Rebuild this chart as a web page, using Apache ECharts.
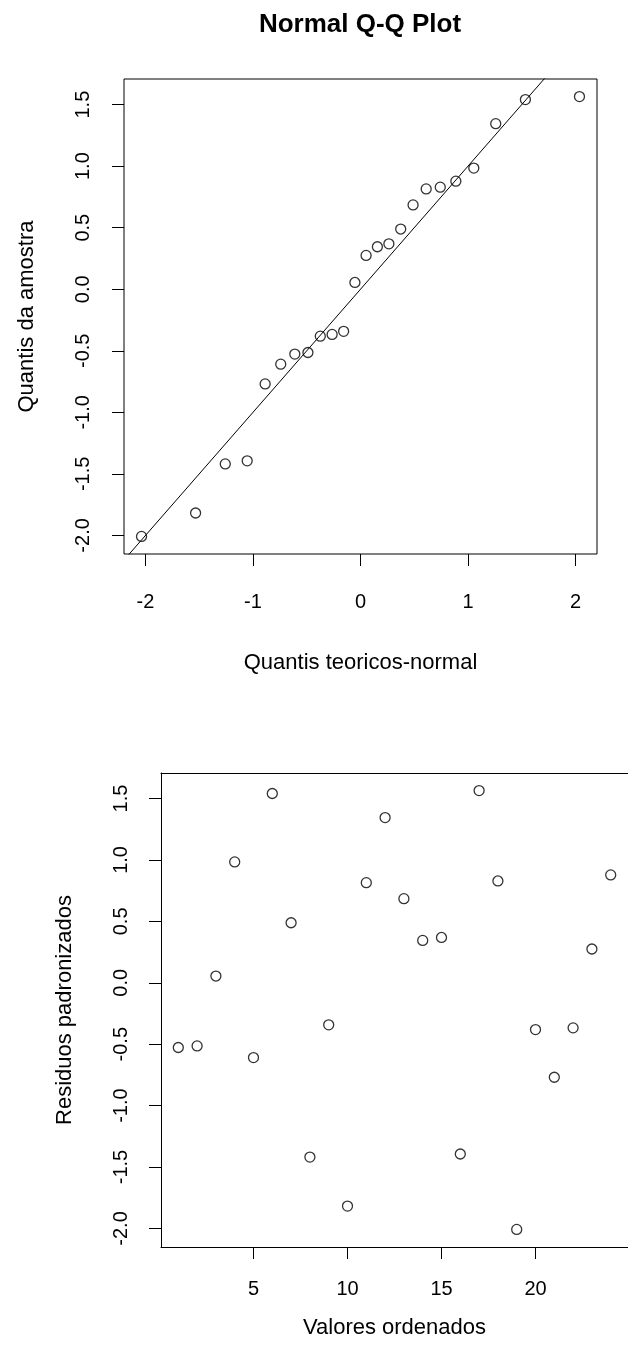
<!DOCTYPE html>
<html>
<head>
<meta charset="utf-8">
<script src="https://cdn.jsdelivr.net/npm/echarts@6/dist/echarts.min.js"></script>
<style>
    body{margin:0;background:#fff;}
    #main{width:628px;height:1364px;}
</style>
</head>
<body>
<div id="main"></div>
<script>
//理论分位数（Q-Q图的x）
var quantisTeoricos = [-2.037,-1.534,-1.258,-1.054,-0.887,-0.742,-0.611,-0.489,-0.374,-0.264,-0.157,-0.052,
                       0.052,0.157,0.264,0.374,0.489,0.611,0.742,0.887,1.054,1.258,1.534,2.037];
//样本分位数（排序后的残差）
var quantisAmostra = [-2.008,-1.818,-1.419,-1.394,-0.769,-0.609,-0.527,-0.514,-0.381,-0.367,-0.342,0.055,
                      0.275,0.345,0.369,0.489,0.685,0.815,0.829,0.878,0.984,1.345,1.541,1.565];
//序号
var indices = [1,2,3,4,5,6,7,8,9,10,11,12,13,14,15,16,17,18,19,20,21,22,23,24];
//标准化残差（按序号）
var residuos = [-0.527,-0.514,0.055,0.984,-0.609,1.541,0.489,-1.419,-0.342,-1.818,0.815,1.345,
                0.685,0.345,0.369,-1.394,1.565,0.829,-2.008,-0.381,-0.769,-0.367,0.275,0.878];

//刻度
var xTicksQQ = [-2,-1,0,1,2];
var xTicksRes = [5,10,15,20];
var yTicks = [-2,-1.5,-1,-0.5,0,0.5,1,1.5];
var yTickLabels = ["-2.0","-1.5","-1.0","-0.5","0.0","0.5","1.0","1.5"];

//坐标范围
var xRangeQQ = [-2.200,2.200];
var xRangeRes = [0.08,24.92];
var yRange = [-2.151,1.708];

//参考线 y = a + b*x
var linhaRef = {intercept:0,slope:1};

var fonte = "'Liberation Sans', Arial, sans-serif";

function pares(xs,ys){
    var out = [];
    for(var i = 0;i < xs.length;i++){
        out.push([xs[i],ys[i]]);
    }
    return out;
}

function eixoX(grid,range,ticks,nome,margem,gap,linha){
    return {
        gridIndex:grid,
        type:"value",
        min:range[0],
        max:range[1],
        splitLine:{show:false},
        axisLine:{show:linha,onZero:false,lineStyle:{color:"#000",width:1}},
        axisTick:{show:true,inside:false,length:12,customValues:ticks,lineStyle:{color:"#000",width:1}},
        axisLabel:{customValues:ticks,margin:margem,fontSize:20,color:"#000",fontFamily:fonte},
        name:nome,
        nameLocation:"middle",
        nameGap:gap,
        nameTextStyle:{fontSize:22,color:"#000",fontFamily:fonte}
    };
}

function eixoY(grid,nome,margem,gap,linha){
    return {
        gridIndex:grid,
        type:"value",
        min:yRange[0],
        max:yRange[1],
        splitLine:{show:false},
        axisLine:{show:linha,onZero:false,lineStyle:{color:"#000",width:1}},
        axisTick:{show:true,inside:false,length:12,customValues:yTicks,lineStyle:{color:"#000",width:1}},
        axisLabel:{
            customValues:yTicks,
            rotate:90,
            margin:margem,
            fontSize:20,
            color:"#000",
            fontFamily:fonte,
            formatter:function(v){
                var k = yTicks.indexOf(v);
                return k >= 0 ? yTickLabels[k] : v.toFixed(1);
            }
        },
        name:nome,
        nameLocation:"middle",
        nameRotate:90,
        nameGap:gap,
        nameTextStyle:{fontSize:22,color:"#000",fontFamily:fonte}
    };
}

var estiloPonto = {color:"rgba(0,0,0,0)",borderColor:"#000",borderWidth:1.3};

var myChart = echarts.init(document.getElementById("main"),null,{renderer:"canvas"});
var option = {
    animation:false,
    backgroundColor:"#fff",
    graphic:[
        {
            type:"text",
            x:360,
            y:25,
            style:{text:"Normal Q-Q Plot",fill:"#000",font:"bold 26px " + fonte,align:"center",verticalAlign:"middle"}
        }
    ],
    grid:[
        {left:124,top:79,width:473,height:475,show:true,borderColor:"#000",borderWidth:1,backgroundColor:"transparent"},
        //第二幅图右侧被裁掉，只画左、下、上三条边
        {left:161,top:773,width:473,height:474,show:false}
    ],
    xAxis:[
        eixoX(0,xRangeQQ,xTicksQQ,"Quantis teoricos-normal",38,98,false),
        eixoX(1,xRangeRes,xTicksRes,"Valores ordenados",32,70,true),
        {
            gridIndex:1,
            type:"value",
            position:"top",
            min:xRangeRes[0],
            max:xRangeRes[1],
            splitLine:{show:false},
            axisLine:{show:true,onZero:false,lineStyle:{color:"#000",width:1}},
            axisTick:{show:false},
            axisLabel:{show:false}
        }
    ],
    yAxis:[
        eixoY(0,"Quantis da amostra",31,86,false),
        eixoY(1,"Residuos padronizados",30,85,true)
    ],
    series:[
        {
            type:"scatter",
            xAxisIndex:0,
            yAxisIndex:0,
            symbol:"circle",
            symbolSize:10,
            itemStyle:estiloPonto,
            data:pares(quantisTeoricos,quantisAmostra)
        },
        {
            type:"line",
            xAxisIndex:0,
            yAxisIndex:0,
            symbol:"none",
            clip:true,
            lineStyle:{color:"#000",width:1},
            data:[
                [xRangeQQ[0],linhaRef.intercept + linhaRef.slope * xRangeQQ[0]],
                [xRangeQQ[1],linhaRef.intercept + linhaRef.slope * xRangeQQ[1]]
            ]
        },
        {
            type:"scatter",
            xAxisIndex:1,
            yAxisIndex:1,
            symbol:"circle",
            symbolSize:10,
            itemStyle:estiloPonto,
            data:pares(indices,residuos)
        }
    ]
};
myChart.setOption(option);
</script>
</body>
</html>
